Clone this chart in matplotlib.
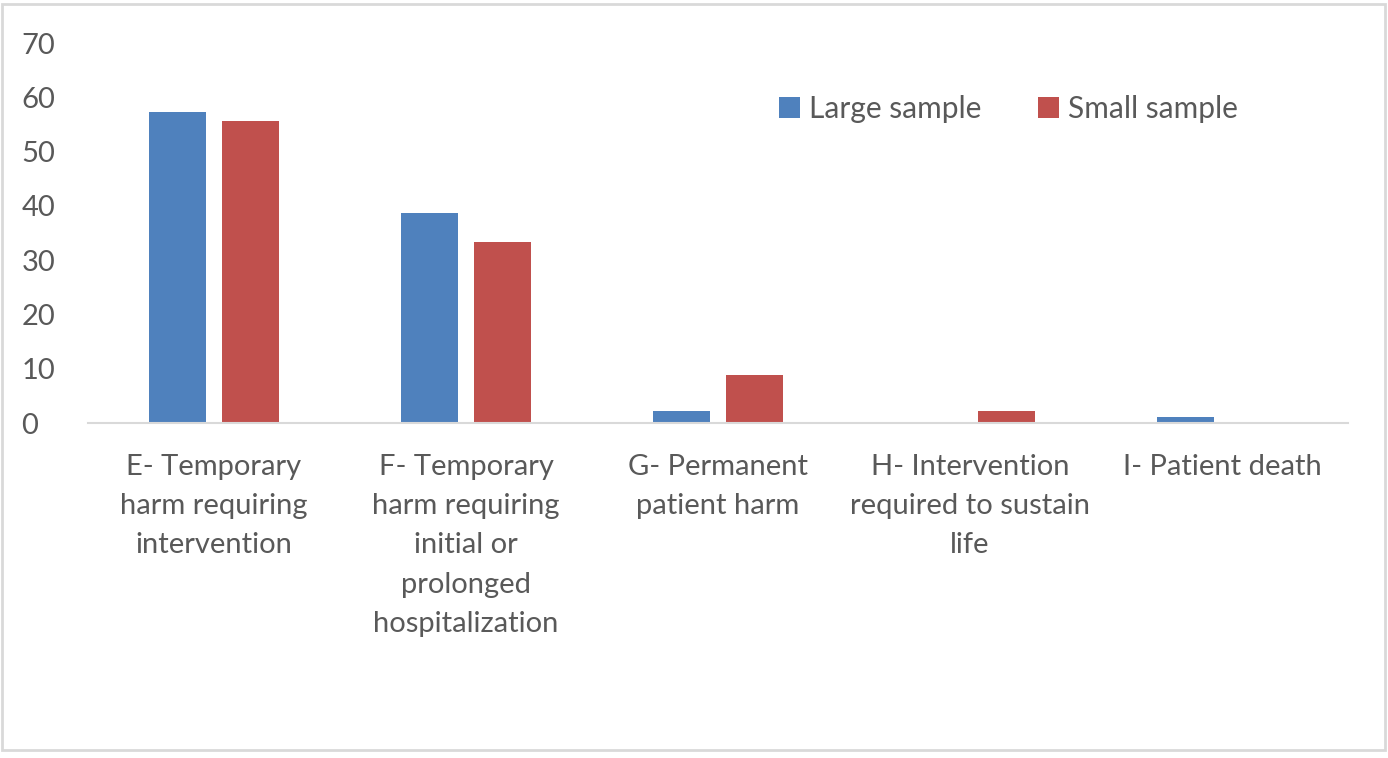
import numpy as np
import matplotlib.pyplot as plt
from matplotlib.patches import Rectangle

plt.rcParams['font.family'] = ['Lato', 'DejaVu Sans']

# Harm categories and percentage of errors per sample
categories = ['E- Temporary\nharm requiring\nintervention',
              'F- Temporary\nharm requiring\ninitial or\nprolonged\nhospitalization',
              'G- Permanent\npatient harm',
              'H- Intervention\nrequired to sustain\nlife',
              'I- Patient death']
large_sample = [57.3, 38.6, 2.2, 0, 1.1]
small_sample = [55.6, 33.3, 8.9, 2.2, 0]
y_ticks = [0, 10, 20, 30, 40, 50, 60, 70]

text_color = '#595959'
blue = '#4f81bd'
red = '#c0504d'

fig = plt.figure(figsize=(13.88, 7.58), dpi=100)
ax = fig.add_axes([88 / 1388, 1 - 423 / 758, 1260 / 1388, 380 / 758])

x = np.arange(len(categories))
width = 0.226
offset = 0.143
ax.bar(x - offset, large_sample, width, color=blue, label='Large sample')
ax.bar(x + offset, small_sample, width, color=red, label='Small sample')

ax.set_xlim(-0.5, len(categories) - 0.5)
ax.set_ylim(0, 70)
ax.set_yticks(y_ticks)
ax.set_yticklabels([str(t) for t in y_ticks], fontsize=21, color=text_color)
ax.set_xticks(x)
ax.set_xticklabels(categories, fontsize=21, color=text_color, linespacing=1.64,
                   va='top')
ax.tick_params(axis='both', length=0)
ax.tick_params(axis='x', pad=22)
ax.tick_params(axis='y', pad=48)
for label in ax.get_yticklabels():
    label.set_horizontalalignment('left')

for side in ['top', 'right', 'left']:
    ax.spines[side].set_visible(False)
ax.spines['bottom'].set_color('#d9d9d9')
ax.spines['bottom'].set_linewidth(1.5)

ax.legend(loc='center left', bbox_to_anchor=(752 / 1388, 1 - 109 / 758),
          bbox_transform=fig.transFigure, ncol=2, frameon=False, fontsize=21.5,
          labelcolor=text_color, handlelength=0.7, handleheight=0.7,
          handletextpad=0.3, columnspacing=1.9)

# outer chart border
fig.patches.append(Rectangle((2 / 1388, 1 - 750 / 758), 1383 / 1388, 746 / 758,
                             transform=fig.transFigure, fill=False,
                             edgecolor='#d9d9d9', linewidth=2))

fig.savefig('out.png', dpi=100, facecolor='white')
